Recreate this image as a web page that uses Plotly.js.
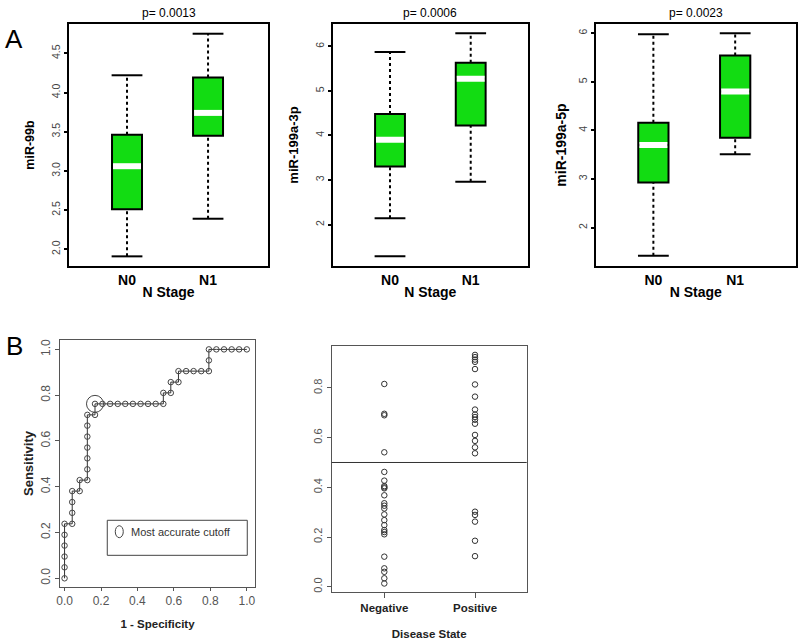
<!DOCTYPE html>
<html><head><meta charset="utf-8">
<script src="https://cdn.plot.ly/plotly-3.0.1.min.js"></script>
<style>html,body{margin:0;padding:0;background:#fff}#chart{width:800px;height:644px}</style>
</head><body><div id="chart"></div>
<script>
// ---------- Panel A data (box plots by N stage) ----------
const groups = ['N0', 'N1'];
const groupPos = [1, 2];
const pValues = ['p= 0.0013', 'p= 0.0006', 'p= 0.0023'];
const mirNames = ['miR-99b', 'miR-199a-3p', 'miR-199a-5p'];

const miR99b_low  = [1.91, 2.39];
const miR99b_q1   = [2.51, 3.45];
const miR99b_med  = [3.06, 3.74];
const miR99b_q3   = [3.46, 4.19];
const miR99b_high = [4.22, 4.75];
const miR99b_out  = [[], []];

const miR199a3p_low  = [2.14, 2.96];
const miR199a3p_q1   = [3.30, 4.22];
const miR199a3p_med  = [3.90, 5.27];
const miR199a3p_q3   = [4.48, 5.63];
const miR199a3p_high = [5.87, 6.29];
const miR199a3p_out  = [[1.29], []];

const miR199a5p_low  = [1.42, 3.51];
const miR199a5p_q1   = [2.93, 3.85];
const miR199a5p_med  = [3.70, 4.80];
const miR199a5p_q3   = [4.16, 5.54];
const miR199a5p_high = [5.98, 6.00];
const miR199a5p_out  = [[], []];

// ---------- Panel B data ----------
const rocFpr = [0,0,0,0,0,0, 0.042,0.042,0.042,0.042, 0.083,0.083,
  0.125,0.125,0.125,0.125,0.125,0.125,0.125, 0.167,0.167,
  0.208,0.25,0.292,0.333,0.375,0.417,0.458,0.5,0.542, 0.542,
  0.583,0.583, 0.625,0.625, 0.667,0.708,0.75,0.792, 0.792,0.792,
  0.833,0.875,0.917,0.958,1.0];
const rocTpr = [0,0.048,0.095,0.143,0.19,0.238, 0.238,0.286,0.333,0.381, 0.381,0.429,
  0.429,0.476,0.524,0.571,0.619,0.667,0.714, 0.714,0.762,
  0.762,0.762,0.762,0.762,0.762,0.762,0.762,0.762,0.762, 0.81,
  0.81,0.857, 0.857,0.905, 0.905,0.905,0.905,0.905, 0.952,1.0,
  1.0,1.0,1.0,1.0,1.0];
const bestFpr = [0.167];
const bestTpr = [0.762];
const legendText = 'Most accurate cutoff';

const diseaseStates = ['Negative', 'Positive'];
const negScores = [0.816,0.696,0.690,0.541,0.462,0.427,0.405,0.400,0.396,0.368,0.336,0.326,
  0.315,0.291,0.268,0.248,0.228,0.220,0.211,0.121,0.074,0.060,0.034,0.013];
const posScores = [0.933,0.924,0.914,0.905,0.876,0.814,0.765,0.713,0.693,0.683,0.672,0.656,
  0.611,0.587,0.561,0.537,0.302,0.289,0.262,0.185,0.123];
const cutoff = [0.5];

// ---------- styling ----------
const FONT = 'Liberation Sans, Arial, Helvetica, sans-serif';
const GREEN = '#12dc12';
const traces = [];

function boxPanel(n, low, q1, med, q3, high, out) {
  const xa = n === 1 ? 'x' : 'x' + n;
  const ya = n === 1 ? 'y' : 'y' + n;
  const wx = [], wy = [];
  for (let i = 0; i < groupPos.length; i++) {
    wx.push(groupPos[i], groupPos[i], null, groupPos[i], groupPos[i], null);
    wy.push(q3[i], high[i], null, low[i], q1[i], null);
  }
  traces.push({type:'scatter', mode:'lines', x:wx, y:wy, xaxis:xa, yaxis:ya,
    line:{color:'#000', width:2, dash:'dot'}, hoverinfo:'skip', showlegend:false});
  traces.push({type:'box', x:groupPos, q1:q1, median:med, q3:q3, lowerfence:q1, upperfence:q3,
    width:0.37, fillcolor:GREEN, line:{color:'#000', width:2}, boxpoints:false,
    xaxis:xa, yaxis:ya, hoverinfo:'skip', showlegend:false});
  traces.push({type:'scatter', mode:'markers', x:groupPos.concat(groupPos), y:low.concat(high),
    xaxis:xa, yaxis:ya, marker:{symbol:'line-ew', size:22, line:{color:'#000', width:2}},
    hoverinfo:'skip', showlegend:false});
  traces.push({type:'scatter', mode:'markers', x:groupPos, y:med, xaxis:xa, yaxis:ya,
    marker:{symbol:'line-ew', size:20, line:{color:'#fff', width:6}},
    hoverinfo:'skip', showlegend:false});
  const ox = [], oy = [];
  out.forEach((arr, i) => arr.forEach(v => { ox.push(groupPos[i]); oy.push(v); }));
  if (ox.length) traces.push({type:'scatter', mode:'markers', x:ox, y:oy, xaxis:xa, yaxis:ya,
    marker:{symbol:'line-ew', size:22, line:{color:'#000', width:2}},
    hoverinfo:'skip', showlegend:false});
}
boxPanel(1, miR99b_low, miR99b_q1, miR99b_med, miR99b_q3, miR99b_high, miR99b_out);
boxPanel(2, miR199a3p_low, miR199a3p_q1, miR199a3p_med, miR199a3p_q3, miR199a3p_high, miR199a3p_out);
boxPanel(3, miR199a5p_low, miR199a5p_q1, miR199a5p_med, miR199a5p_q3, miR199a5p_high, miR199a5p_out);

// ROC
traces.push({type:'scatter', mode:'lines+markers', x:rocFpr, y:rocTpr, xaxis:'x4', yaxis:'y4',
  line:{color:'#333', width:1}, marker:{symbol:'circle-open', size:5.5, color:'#444', line:{width:1}},
  hoverinfo:'skip', showlegend:false});
traces.push({type:'scatter', mode:'markers', x:bestFpr, y:bestTpr, xaxis:'x4', yaxis:'y4',
  marker:{symbol:'circle-open', size:17, color:'#444', line:{width:1}},
  hoverinfo:'skip', showlegend:false});

// scatter by disease state
traces.push({type:'scatter', mode:'markers', x:negScores.map(() => 1), y:negScores, xaxis:'x5', yaxis:'y5',
  marker:{symbol:'circle-open', size:5.5, color:'#333', line:{width:1}}, hoverinfo:'skip', showlegend:false});
traces.push({type:'scatter', mode:'markers', x:posScores.map(() => 2), y:posScores, xaxis:'x5', yaxis:'y5',
  marker:{symbol:'circle-open', size:5.5, color:'#333', line:{width:1}}, hoverinfo:'skip', showlegend:false});

function aX(domain, range) {
  return {domain:domain, range:range, tickvals:groupPos, ticktext:groups, ticks:'',
    showline:true, mirror:true, linecolor:'#000', linewidth:2, showgrid:false, zeroline:false,
    tickfont:{family:FONT, size:14, color:'#000', weight:'bold'},
    title:{text:'N Stage', font:{family:FONT, size:14, color:'#000', weight:'bold'}, standoff:0}};
}
function aY(domain, range, dtick, fmt, title, tsize, standoff) {
  return {domain:domain, range:range, dtick:dtick, tickformat:fmt, tick0:0, tickangle:-90,
    ticks:'outside', ticklen:3, tickwidth:2, tickcolor:'#000',
    showline:true, mirror:true, linecolor:'#000', linewidth:2, showgrid:false, zeroline:false,
    tickfont:{family:FONT, size:10.5, color:'#444'},
    title:{text:title, font:{family:FONT, size:tsize, color:'#000', weight:'bold'}, standoff:standoff}};
}
const yA = [0.58696, 0.96273];
const layout = {
  width:800, height:644, margin:{l:0, r:0, t:0, b:0},
  paper_bgcolor:'#fff', plot_bgcolor:'#fff', showlegend:false,
  xaxis: aX([0.08625, 0.335], [0.284, 2.74]),
  yaxis: aY(yA, [1.787, 4.874], 0.5, '.1f', mirNames[0], 12.5, 12),
  xaxis2: Object.assign(aX([0.41588, 0.66], [0.29, 2.71]), {anchor:'y2'}),
  yaxis2: Object.assign(aY(yA, [1.07, 6.50], 1, 'd', mirNames[1], 13, 12), {anchor:'x2'}),
  xaxis3: Object.assign(aX([0.74463, 0.99463], [0.295, 2.74]), {anchor:'y3'}),
  yaxis3: Object.assign(aY(yA, [1.21, 6.19], 1, 'd', mirNames[2], 14, 7), {anchor:'x3'}),
  xaxis4: {domain:[0.075, 0.31875], range:[-0.025, 1.045], anchor:'y4', dtick:0.2, tick0:0, tickformat:'.1f',
    ticks:'outside', ticklen:3, tickcolor:'#555', showline:true, mirror:true, linecolor:'#555', linewidth:1,
    showgrid:false, zeroline:false, tickfont:{family:FONT, size:12, color:'#555'},
    title:{text:'1 - Specificity', font:{family:FONT, size:11.5, color:'#222', weight:'bold'}, standoff:12}},
  yaxis4: {domain:[0.08851, 0.47205], range:[-0.038, 1.041], anchor:'x4', dtick:0.2, tick0:0, tickformat:'.1f',
    tickangle:-90, ticks:'outside', ticklen:4, tickcolor:'#555', showline:true, mirror:true, linecolor:'#555',
    linewidth:1, showgrid:false, zeroline:false, tickfont:{family:FONT, size:12, color:'#555'},
    title:{text:'Sensitivity', font:{family:FONT, size:13, color:'#222', weight:'bold'}, standoff:2}},
  xaxis5: {domain:[0.41463, 0.65838], range:[0.42, 2.57], anchor:'y5', tickvals:groupPos, ticktext:diseaseStates,
    ticks:'outside', ticklen:5, tickcolor:'#555', showline:true, mirror:true, linecolor:'#555', linewidth:1,
    showgrid:false, zeroline:false, tickfont:{family:FONT, size:11.5, color:'#222', weight:'bold'},
    title:{text:'Disease State', font:{family:FONT, size:11.5, color:'#222', weight:'bold'}, standoff:17}},
  yaxis5: {domain:[0.08121, 0.46320], range:[-0.02, 0.97], anchor:'x5', dtick:0.2, tick0:0, tickformat:'.1f',
    tickangle:-90, ticks:'outside', ticklen:4, tickcolor:'#555', showline:true, mirror:true, linecolor:'#555',
    linewidth:1, showgrid:false, zeroline:false, tickfont:{family:FONT, size:11, color:'#555'}},
  shapes: [
    {type:'line', xref:'x5 domain', yref:'y5', x0:0, x1:1, y0:cutoff[0], y1:cutoff[0], line:{color:'#333', width:1}},
    {type:'rect', xref:'paper', yref:'paper', x0:0.1341, x1:0.3091, y0:0.1377, y1:0.1921, line:{color:'#444', width:1}},
    {type:'circle', xref:'paper', yref:'paper', x0:0.1441, x1:0.1541, y0:0.1651, y1:0.1837, line:{color:'#444', width:1}}
  ],
  annotations: [
    {text:'A', xref:'paper', yref:'paper', x:0.0175, y:0.9394, xanchor:'center', yanchor:'middle', showarrow:false,
      font:{family:FONT, size:26, color:'#000'}},
    {text:'B', xref:'paper', yref:'paper', x:0.0175, y:0.4627, xanchor:'center', yanchor:'middle', showarrow:false,
      font:{family:FONT, size:26, color:'#000'}},
    {text:legendText, xref:'paper', yref:'paper', x:0.1616, y:0.1744, xanchor:'left', yanchor:'middle', showarrow:false,
      font:{family:FONT, size:11, color:'#333'}}
  ]
};
['x', 'x2', 'x3'].forEach((xr, i) => {
  layout.annotations.push({text:pValues[i], xref:xr + ' domain', yref:'paper', x:0.5, y:0.980,
    xanchor:'center', yanchor:'middle', showarrow:false, font:{family:FONT, size:12, color:'#000'}});
});
Plotly.newPlot('chart', traces, layout, {staticPlot:true});
</script></body></html>
